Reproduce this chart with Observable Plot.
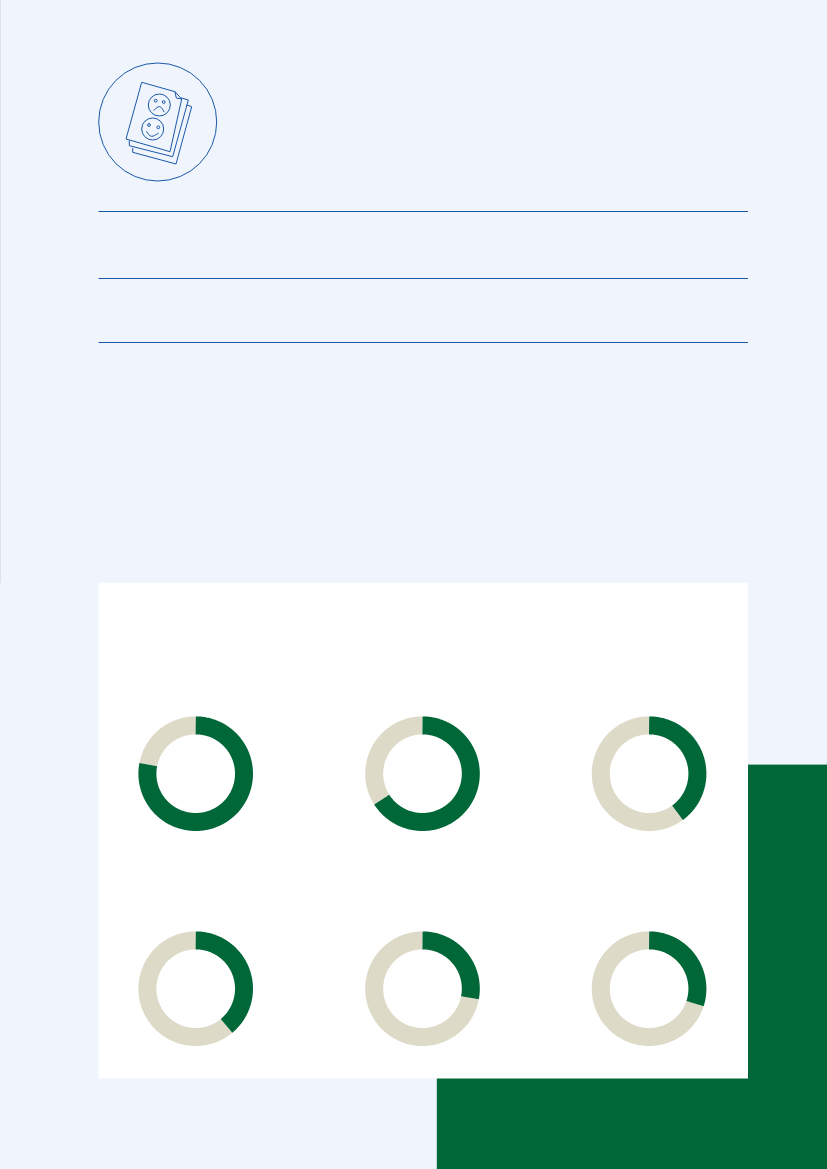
<!DOCTYPE html>
<html>
<head>
<meta charset="utf-8">
<script src="https://cdn.jsdelivr.net/npm/d3@7"></script>
<script src="https://cdn.jsdelivr.net/npm/@observablehq/plot@0.6"></script>
<style>
  html, body { margin: 0; padding: 0; background: #f0f5fd; }
  svg { display: block; }
</style>
</head>
<body>
<div id="chart"></div>
<script>
// ---- chart values (share of the ring in dark green, %) ----
const donutIds = ["a", "b", "c", "d", "e", "f"];
const donutColumns = [0, 1, 2, 0, 1, 2];
const donutRows = [0, 0, 0, 1, 1, 1];
const greenShares = [78, 66, 40, 39, 28, 30];

// ---- layout and style ----
const W = 827, H = 1169;
const GREEN = "#006838", SAND = "#dddac8", BLUE = "#1a58a8", WHITE = "#ffffff";
const columnCenters = [195.2, 422, 648.6];
const rowCenters = [773.2, 988.2];
const ringRadius = 48.3, ringWidth = 18;

const panels = [
  {x1: 0, x2: 1, y1: 0, y2: 583, fill: "#dfe3e4"},
  {x1: 748, x2: W, y1: 764.6, y2: H, fill: GREEN},
  {x1: 436.8, x2: W, y1: 1078.3, y2: H, fill: GREEN},
  {x1: 98.6, x2: 748, y1: 582.8, y2: 1078.3, fill: WHITE}
];
const ruleYs = [211, 278, 342];

// decorative icon: sheets of paper with two faces
const iconLines = [
  {id: "sheet1", pts: [[174.5, 91.2], [141.2, 81.8], [125.5, 138.5], [169.5, 151.2], [181.2, 98.5], [174.5, 91.2], [175.8, 97.5], [181.2, 98.5]]},
  {id: "sheet2", pts: [[128.8, 140.5], [128.8, 145.2], [172.2, 156.2], [187.8, 99.5], [180.8, 97.4]]},
  {id: "sheet3", pts: [[132.2, 147.8], [132.2, 151.8], [175.5, 163.5], [191.2, 106.2], [186.5, 104.5]]}
];
const iconMouths = [
  {id: "sad", pts: [[153.5, 109.8], [159.1, 106.1], [163.5, 111.3]]},
  {id: "happy", pts: [[146.2, 131.2], [150.9, 135.8], [157.8, 132.8]]}
];
const iconDots = [
  {x: 157.2, y: 121.5, r: 59},
  {x: 158.8, y: 104.5, r: 11},
  {x: 152.2, y: 128.5, r: 11},
  {x: 155.2, y: 100.2, r: 1.4},
  {x: 163.2, y: 101.5, r: 1.4},
  {x: 148.5, y: 124.5, r: 1.4},
  {x: 157.8, y: 126.8, r: 1.4}
];

// ---- helpers that turn a share of the ring into a path for Plot.line ----
function ringPath(id, part, column, row, from, to) {
  const steps = Math.max(2, Math.ceil((to - from) * 3.6));
  return d3.range(steps + 1).map(i => {
    const a = (from + (to - from) * i / steps) / 100 * 2 * Math.PI;
    return {
      key: id + part, part,
      x: columnCenters[column] + ringRadius * Math.sin(a),
      y: rowCenters[row] - ringRadius * Math.cos(a)
    };
  });
}
const ringPoints = donutIds.flatMap((id, i) => [
  ...ringPath(id, "rest", donutColumns[i], donutRows[i], greenShares[i], 100),
  ...ringPath(id, "share", donutColumns[i], donutRows[i], 0, greenShares[i])
]);
const flat = rows => rows.flatMap(d => d.pts.map(([x, y]) => ({id: d.id, x, y})));

const chart = Plot.plot({
  width: W, height: H, margin: 0,
  style: {background: "transparent"},
  x: {domain: [0, W], range: [0, W], axis: null},
  y: {domain: [0, H], range: [0, H], axis: null},
  color: {domain: ["share", "rest"], range: [GREEN, SAND]},
  r: {type: "identity"},
  marks: [
    Plot.rect(panels, {x1: "x1", x2: "x2", y1: "y1", y2: "y2", fill: d => d.fill, inset: 0}),
    Plot.ruleY(ruleYs, {x1: 98.5, x2: 748, stroke: BLUE, strokeWidth: 1}),
    Plot.line(flat(iconLines), {x: "x", y: "y", z: "id", stroke: BLUE, strokeWidth: 1, curve: "linear", strokeLinejoin: "miter"}),
    Plot.line(flat(iconMouths), {x: "x", y: "y", z: "id", stroke: BLUE, strokeWidth: 1, curve: "natural"}),
    Plot.dot(iconDots, {x: "x", y: "y", r: "r", stroke: BLUE, strokeWidth: 1, fill: "none"}),
    Plot.line(ringPoints, {
      x: "x", y: "y", z: "key", stroke: "part",
      strokeWidth: ringWidth, strokeLinecap: "butt", strokeLinejoin: "round", curve: "linear"
    })
  ]
});
document.getElementById("chart").append(chart);
</script>
</body>
</html>
